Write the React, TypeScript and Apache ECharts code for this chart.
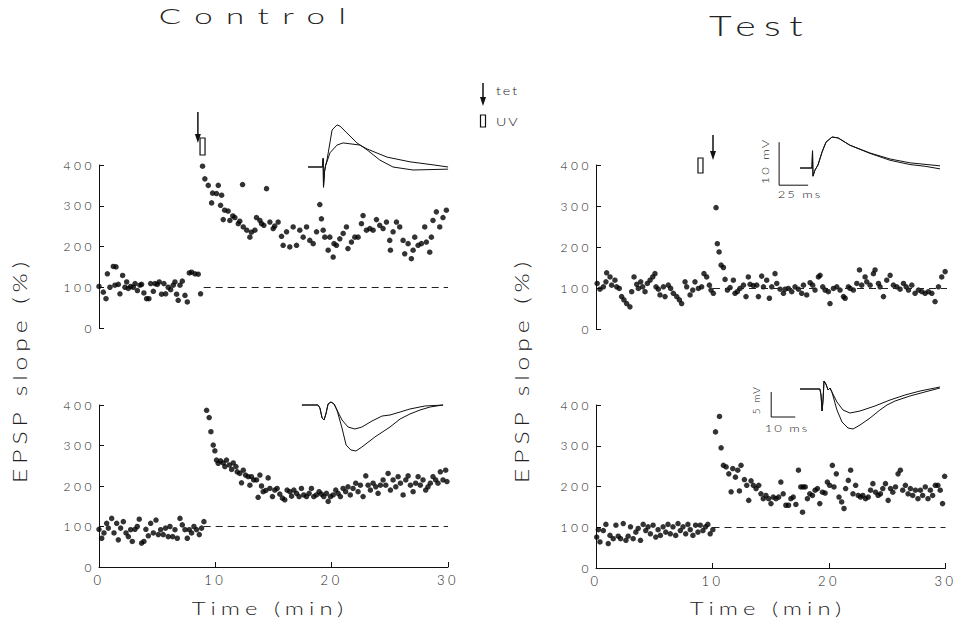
import React, { useEffect, useRef } from "react";
import * as echarts from "echarts";

// ---- EPSP slope (%) vs time (min) ----
const ctrlTop: number[][] = [
  [0,102],[0.37,88],[0.6,72],[0.72,133],[0.94,100],[1.23,151],[1.37,105],[1.46,150],[1.66,107],[1.8,84],
  [2.03,129],[2.23,100],[2.38,113],[2.52,97],[2.72,102],[2.95,100],[3.1,109],[3.3,92],[3.52,105],[3.66,107],
  [3.86,86],[4.09,72],[4.29,72],[4.44,109],[4.67,90],[4.81,109],[5.01,107],[5.18,113],[5.38,83],[5.58,109],
  [5.73,84],[5.95,100],[6.16,94],[6.38,105],[6.53,113],[6.67,83],[6.81,68],[6.96,105],[7.16,115],[7.39,80],
  [7.59,64],[7.76,135],[7.96,137],[8.25,133],[8.53,132],[8.73,84],
  [8.9,397],[9.1,366],[9.39,350],[9.68,307],[9.76,331],[10.1,330],[10.25,350],[10.45,301],[10.54,326],[10.68,266],
  [10.8,289],[11.1,287],[11.25,264],[11.5,275],[11.68,271],[11.97,256],[12.1,262],[12.34,352],[12.4,248],[12.7,240],
  [12.97,223],[13.1,235],[13.4,240],[13.54,271],[13.83,264],[13.97,256],[14.17,252],[14.4,342],[14.69,260],[14.97,244],
  [15.1,250],[15.4,260],[15.69,225],[15.83,203],[16.12,236],[16.4,199],[16.69,248],[16.98,203],[17.26,240],[17.55,223],
  [17.84,248],[18.12,215],[18.41,207],[18.7,236],[18.98,303],[19.12,268],[19.27,240],[19.41,223],[19.7,191],[19.84,223],
  [20.13,174],[20.2,207],[20.41,203],[20.7,219],[20.99,232],[21.27,248],[21.4,195],[21.7,211],[21.99,223],[22.27,223],
  [22.56,256],[22.7,276],[22.99,240],[23.28,244],[23.56,240],[23.85,266],[24.13,252],[24.42,244],[24.71,260],[24.99,215],
  [25.05,191],[25.28,236],[25.57,260],[25.85,248],[26.14,215],[26.28,182],[26.57,207],[26.85,170],[27,191],[27.14,223],
  [27.43,203],[27.71,207],[28,248],[28.14,211],[28.43,186],[28.57,223],[28.71,264],[29,285],[29.29,248],[29.57,271],[29.86,289]
];

const ctrlBottom: number[][] = [
  [0,93],[0.23,71],[0.43,84],[0.66,108],[0.8,96],[1.09,120],[1.29,84],[1.52,108],[1.66,67],[1.86,96],
  [2.09,112],[2.32,84],[2.52,75],[2.72,92],[2.86,63],[3.09,93],[3.29,100],[3.46,118],[3.66,59],[3.86,63],
  [4.03,93],[4.24,77],[4.44,108],[4.67,84],[4.9,116],[5.1,80],[5.3,92],[5.52,80],[5.72,96],[5.95,75],
  [6.1,100],[6.33,75],[6.53,92],[6.73,71],[6.96,120],[7.16,104],[7.39,92],[7.59,71],[7.76,92],[7.96,84],
  [8.16,100],[8.39,92],[8.62,80],[8.82,96],[9.02,112],
  [9.25,387],[9.47,369],[9.62,334],[9.82,301],[9.96,287],[10.1,264],[10.25,256],[10.45,262],[10.68,257],[10.82,248],
  [10.96,264],[11.2,252],[11.4,241],[11.54,257],[11.77,248],[11.88,235],[12.1,231],[12.25,208],[12.4,239],[12.6,227],
  [12.82,223],[12.97,202],[13.1,223],[13.3,215],[13.54,215],[13.68,172],[13.83,227],[13.97,200],[14.11,186],[14.34,189],
  [14.54,220],[14.69,194],[14.91,174],[15.11,190],[15.31,194],[15.54,180],[15.77,170],[15.97,166],[16.17,190],[16.4,186],
  [16.55,175],[16.75,190],[16.98,182],[17.2,174],[17.4,194],[17.6,178],[17.84,174],[18.06,182],[18.26,194],[18.46,174],
  [18.69,178],[18.92,186],[19.12,180],[19.32,174],[19.55,182],[19.7,162],[19.9,174],[20.13,178],[20.35,190],[20.55,182],
  [20.75,174],[20.98,194],[21.2,186],[21.4,198],[21.6,178],[21.84,194],[22.07,207],[22.27,186],[22.47,202],[22.7,174],
  [22.93,225],[23.13,202],[23.33,190],[23.56,207],[23.79,198],[23.99,182],[24.19,202],[24.42,215],[24.65,202],[24.85,231],
  [25.05,190],[25.28,215],[25.51,198],[25.71,223],[25.91,207],[26.14,178],[26.37,215],[26.57,225],[26.77,202],[27,186],
  [27.22,207],[27.43,223],[27.62,202],[27.85,215],[28.08,190],[28.28,198],[28.48,207],[28.71,223],[28.94,215],[29.14,207],
  [29.34,235],[29.57,215],[29.8,239],[29.91,211]
];

const testTop: number[][] = [
  [0.1,111],[0.34,97],[0.63,103],[0.85,115],[0.91,137],[1.2,127],[1.34,107],[1.62,119],[1.77,103],[1.99,99],
  [2.19,79],[2.39,71],[2.62,62],[2.9,54],[3.05,91],[3.25,127],[3.48,109],[3.62,99],[3.82,115],[3.99,103],
  [4.19,91],[4.39,111],[4.62,119],[4.85,127],[5.04,135],[5.13,103],[5.33,97],[5.47,83],[5.76,103],[5.9,79],
  [6.18,107],[6.38,99],[6.61,87],[6.9,79],[7.13,71],[7.32,62],[7.61,115],[7.75,103],[8.04,83],[8.27,95],
  [8.46,115],[8.75,99],[9.03,103],[9.23,135],[9.46,127],[9.69,107],[9.83,95],[10.03,87],
  [10.26,296],[10.37,208],[10.52,188],[10.69,156],[10.89,150],[11.03,121],[11.23,95],[11.46,101],[11.74,119],[11.88,87],
  [12.08,91],[12.31,99],[12.6,107],[12.82,79],[13.02,127],[13.17,109],[13.45,106],[13.74,107],[13.88,79],[14.16,129],
  [14.31,103],[14.59,119],[14.82,75],[15.02,103],[15.3,135],[15.45,111],[15.73,97],[16.02,87],[16.16,97],[16.44,99],
  [16.73,91],[17.01,103],[17.3,97],[17.58,87],[17.73,107],[18.01,83],[18.3,113],[18.52,107],[18.72,95],[19.01,127],
  [19.15,131],[19.38,103],[19.58,95],[19.86,91],[20.0,62],[20.29,99],[20.58,103],[20.86,95],[21.15,79],[21.29,75],
  [21.57,103],[21.72,99],[22.0,95],[22.29,111],[22.52,144],[22.71,107],[23.0,127],[23.14,115],[23.43,107],[23.71,135],
  [23.85,144],[24.14,111],[24.28,103],[24.57,79],[24.85,119],[25.14,131],[25.42,107],[25.71,103],[25.99,97],[26.28,111],
  [26.51,103],[26.71,95],[26.99,107],[27.27,87],[27.56,95],[27.85,91],[28.13,87],[28.41,91],[28.7,87],[28.98,67],
  [29.27,103],[29.55,127],[29.84,140]
];

const testBottom: number[][] = [
  [0.06,76],[0.2,94],[0.34,64],[0.63,92],[0.85,107],[1.05,60],[1.2,80],[1.48,72],[1.71,105],[1.91,78],
  [2.11,72],[2.34,109],[2.57,68],[2.76,78],[2.96,101],[3.19,72],[3.42,88],[3.62,97],[3.82,68],[4.05,107],
  [4.27,92],[4.47,101],[4.67,84],[4.9,105],[5.13,76],[5.33,94],[5.53,80],[5.76,101],[5.99,88],[6.18,107],
  [6.38,84],[6.61,101],[6.84,80],[7.04,109],[7.24,92],[7.47,101],[7.7,84],[7.89,107],[8.09,94],[8.32,80],
  [8.55,105],[8.75,88],[8.95,105],[9.18,92],[9.4,101],[9.6,107],[9.8,84],[10.03,94],
  [10.26,334],[10.46,410],[10.6,372],[10.74,295],[10.94,252],[11.17,248],[11.4,231],[11.6,187],[11.74,244],[11.97,223],
  [12.17,240],[12.31,189],[12.45,252],[12.74,217],[12.94,203],[13.11,166],[13.31,214],[13.51,203],[13.74,195],[13.97,203],
  [14.16,182],[14.36,170],[14.59,178],[14.82,170],[15.02,158],[15.22,174],[15.45,170],[15.68,174],[15.87,211],[16.07,182],
  [16.3,154],[16.53,154],[16.73,170],[16.93,174],[17.16,156],[17.38,240],[17.58,199],[17.73,137],[17.78,199],[17.96,199],
  [18.15,170],[18.35,182],[18.58,178],[18.81,191],[19.01,195],[19.21,158],[19.44,186],[19.67,184],[19.86,211],[20.06,203],
  [20.29,252],[20.43,199],[20.63,231],[20.86,174],[21.09,162],[21.29,146],[21.43,195],[21.66,215],[21.86,240],[22.06,182],
  [22.29,203],[22.51,178],[22.71,174],[22.91,178],[23.14,170],[23.37,174],[23.57,191],[23.77,207],[24.0,186],[24.22,178],
  [24.42,182],[24.62,195],[24.85,207],[25.08,166],[25.28,195],[25.48,186],[25.71,199],[25.93,231],[26.13,240],[26.33,191],
  [26.56,203],[26.79,182],[26.99,195],[27.19,178],[27.42,191],[27.64,170],[27.85,191],[28.04,178],[28.27,199],[28.5,170],
  [28.7,191],[28.9,178],[29.13,203],[29.35,203],[29.55,191],[29.75,158],[29.93,225]
];

// event times (min)
const tetanusTime = [8.5, 10.0];   // control, test
const uvTime = [8.9, 8.93];        // control, test
const baselineStart = [9.0, 10.0]; // dashed 100% line start

// tick labels
const yTicks = [0, 100, 200, 300, 400];
const xTicks = [0, 10, 20, 30];

// ---- inset traces: [ms, mV] ----
const traceCtrlTopA: number[][] = [
  [2.5,0],[14.5,0],[15,2],[15.3,-4.7],[16.2,-1],[17,0.3],[18.2,1.6],[22.4,8.6],[26.5,9.8],[29,9.5],
  [43,5.6],[51.3,4.0],[62,1.6],[72.8,0],[89.4,-0.7],[118.4,-0.5]
];
const traceCtrlTopB: number[][] = [
  [2.5,0],[14.5,0],[15,2],[15.3,-4.7],[16.2,-1],[17,0.3],[20.7,3.3],[26.5,5.1],[31.5,5.6],[45.5,5.1],
  [51.3,4.2],[67.9,2.3],[86.9,1.2],[106,0.5],[118.4,0]
];
const traceTestTopA: number[][] = [
  [0,0],[10.3,0],[10.8,4],[11.2,-1.9],[12.9,-0.5],[15.5,0.7],[19,3.7],[22.4,6],[27.6,7.2],[32.8,7],
  [43,5.3],[60.3,3.5],[77.6,2.1],[94.8,1.2],[120.7,0.5]
];
const traceTestTopB: number[][] = [
  [0,0],[10.3,0],[10.8,4],[11.2,-1.9],[12.9,-0.5],[15.5,0.7],[19,3.7],[22.4,6],[27.6,7.2],[32.8,7],
  [43,5.3],[60.3,3.4],[77.6,1.8],[94.8,0.8],[107.8,0.4],[120.7,-0.2]
];
const scaleBarTop: number[][] = [[-18,6],[-18,-4],[7,-4]]; // 10 mV, 25 ms

const traceCtrlBotA: number[][] = [
  [0.8,0],[7.5,0],[8.3,-0.6],[9.2,-2.6],[10,-3],[10.8,-1.8],[11.7,0.2],[12.9,0.6],[14.2,0.2],[15.4,-1],
  [17.5,-3],[20,-4.4],[22.9,-4.8],[25.8,-4.4],[30,-3.2],[34.2,-2.2],[37.5,-2],[41.7,-1.4],[45.8,-0.8],[52,-0.2],[59.6,0]
];
const traceCtrlBotB: number[][] = [
  [0.8,0],[7.5,0],[8.3,-0.6],[9.2,-2.6],[10,-3],[10.8,-1.8],[11.7,0.2],[12.9,0.6],[14.2,0.2],[15.4,-1],
  [17.5,-4.6],[19.2,-8],[21.2,-9],[23.3,-9.2],[25.8,-8.4],[31.2,-6.4],[37.5,-4.4],[41.7,-2.8],[45.8,-1.8],[50,-1],[54.2,-0.4],[59.6,0]
];
const traceTestBotA: number[][] = [
  [0,0],[8.3,0],[8.75,-1.2],[9.2,-4.4],[9.6,-2.2],[10,1.6],[10.8,1],[11.7,-0.2],[12.5,0.2],[13.3,-0.6],
  [15.4,-2.6],[17.9,-4.2],[20.8,-4.8],[25,-4.4],[31.2,-3.4],[37.5,-2.2],[43.75,-1.2],[50,-0.4],[56.25,0.2],[58.3,0.4]
];
const traceTestBotB: number[][] = [
  [0,0],[8.3,0],[8.75,-1.2],[9.2,-4.4],[9.6,-2.2],[10,1.6],[10.8,1],[11.7,-0.2],[12.5,0.2],[13.3,-0.6],
  [15.4,-4.2],[17.5,-6.6],[20,-7.8],[22.1,-8],[25,-7.2],[29.2,-5.8],[33.3,-4.2],[36.25,-3.2],[39.6,-2.4],[45.8,-1.4],[52,-0.6],[58.3,0.2]
];
const scaleBarBot: number[][] = [[-12,-0.6],[-12,-5.6],[-2,-5.6]]; // 5 mV, 10 ms

const LIGHT = "Lato";
const INK = "#111";

// letter spacing for the plotter-style labels (matched by their font size)
const CSS = `
.epsp-chart text[style*="22px"] { letter-spacing: 9px; }
.epsp-chart text[style*="28px"] { letter-spacing: 6px; }
.epsp-chart text[style*="19px"] { letter-spacing: 3.8px; }
.epsp-chart text[style*="17px"] { letter-spacing: 3.6px; }
.epsp-chart text[style*="13px"] { letter-spacing: 3.5px; }
.epsp-chart text[style*="12px"] { letter-spacing: 3.5px; }
.epsp-chart text[style*="11px"] { letter-spacing: 1.5px; }
.epsp-chart text[style*="10px"] { letter-spacing: 1.5px; }
`;

export default function App() {
  const ref = useRef<HTMLDivElement>(null);

  useEffect(() => {
    if (!ref.current) return;
    const chart = echarts.init(ref.current, undefined, { renderer: "svg" });

    const mainGrids = [
      { left: 99, top: 165, width: 349, height: 163 },
      { left: 99, top: 405, width: 349, height: 162 },
      { left: 596, top: 165, width: 351, height: 164 },
      { left: 596, top: 405, width: 351, height: 163 },
    ];
    const insetGrids = [
      { left: 305, top: 115.4, width: 145, height: 77.4 },
      { left: 300, top: 400, width: 148.8, height: 55 },
      { left: 776.8, top: 133.6, width: 168.2, height: 55.9 },
      { left: 764, top: 379, width: 184.8, height: 55 },
    ];
    const insetRanges = [
      { x: [0, 120], y: [-6, 12] },
      { x: [0, 62], y: [-10, 1] },
      { x: [-20, 125], y: [-5, 8] },
      { x: [-15, 62], y: [-9, 2] },
    ];

    const xAxes: any[] = [];
    const yAxes: any[] = [];
    mainGrids.forEach((_, i) => {
      const bottom = i === 1 || i === 3;
      xAxes.push({
        type: "value", gridIndex: i, min: xTicks[0], max: xTicks[xTicks.length - 1], interval: 10,
        show: bottom,
        axisLine: { show: true, onZero: false, lineStyle: { color: INK, width: 1 } },
        axisTick: { show: true, inside: true, length: 5, lineStyle: { color: INK } },
        axisLabel: { fontFamily: LIGHT, fontWeight: 300, fontSize: 13, color: "#222", margin: 6 },
        splitLine: { show: false },
      });
      yAxes.push({
        type: "value", gridIndex: i, min: yTicks[0], max: yTicks[yTicks.length - 1], interval: 100,
        axisLine: { show: true, lineStyle: { color: INK, width: 1 } },
        axisTick: { show: true, inside: true, length: 5, lineStyle: { color: INK } },
        axisLabel: { fontFamily: LIGHT, fontWeight: 300, fontSize: 12, color: "#222", margin: 4 },
        splitLine: { show: false },
      });
    });
    insetRanges.forEach((r, k) => {
      xAxes.push({ type: "value", gridIndex: 4 + k, min: r.x[0], max: r.x[1], show: false, splitLine: { show: false } });
      yAxes.push({ type: "value", gridIndex: 4 + k, min: r.y[0], max: r.y[1], show: false, splitLine: { show: false } });
    });

    const scatterSets = [ctrlTop, ctrlBottom, testTop, testBottom];
    const series: any[] = scatterSets.map((d, i) => ({
      type: "scatter", xAxisIndex: i, yAxisIndex: i, data: d, symbolSize: 5.5,
      itemStyle: { color: "#000" }, silent: true,
      markLine: {
        silent: true, symbol: ["none", "none"], label: { show: false },
        lineStyle: { type: [7, 5], color: "#222", width: 1 },
        data: [[{ coord: [baselineStart[i < 2 ? 0 : 1], 100] }, { coord: [30, 100] }]],
      },
    }));
    const lineOf = (idx: number, d: number[][]) => ({
      type: "line", xAxisIndex: idx, yAxisIndex: idx, data: d, showSymbol: false, silent: true,
      lineStyle: { color: INK, width: 1 },
    });
    series.push(lineOf(4, traceCtrlTopA), lineOf(4, traceCtrlTopB));
    series.push(lineOf(5, traceCtrlBotA), lineOf(5, traceCtrlBotB));
    series.push(lineOf(6, traceTestTopA), lineOf(6, traceTestTopB), lineOf(6, scaleBarTop));
    series.push(lineOf(7, traceTestBotA), lineOf(7, traceTestBotB), lineOf(7, scaleBarBot));

    chart.setOption({
      animation: false,
      backgroundColor: "#fff",
      grid: [...mainGrids, ...insetGrids],
      xAxis: xAxes,
      yAxis: yAxes,
      series,
    });

    const txt = (text: string, x: number, y: number, size: number, sx: number, rot = 0, align = "center") => ({
      type: "text", x, y, rotation: rot, scaleX: sx, silent: true,
      style: {
        text, x: 0, y: 0, fill: "#222", fontFamily: LIGHT, fontWeight: 300, fontSize: size,
        textAlign: align, textVerticalAlign: "middle",
      },
    });
    const arrow = (x: number, y1: number, tip: number) => [
      { type: "line", silent: true, shape: { x1: x, y1, x2: x, y2: tip - 6 }, style: { stroke: INK, lineWidth: 1.5 } },
      { type: "polygon", silent: true, shape: { points: [[x - 3, tip - 9], [x + 3, tip - 9], [x, tip]] }, style: { fill: INK } },
    ];
    const uvBox = (cx: number, y1: number, y2: number) => ({
      type: "rect", silent: true, shape: { x: cx - 2.5, y: y1, width: 5, height: y2 - y1 },
      style: { fill: "#fff", stroke: INK, lineWidth: 1.2 },
    });

    const p = (g: number, t: number, v: number) => chart.convertToPixel({ gridIndex: g } as any, [t, v]) as number[];
    const topC = p(0, 0, 400)[1];
    const topT = p(2, 0, 400)[1];
    const aC = p(0, tetanusTime[0], 400)[0];
    const uC = p(0, uvTime[0], 400)[0];
    const aT = p(2, tetanusTime[1], 400)[0];
    const uT = p(2, uvTime[1], 400)[0];

    const graphic: any[] = [
      txt("Control", 259, 15, 22, 1.5),
      txt("Test", 760, 25, 28, 1.4),
      txt("EPSP slope (%)", 20, 370, 19, 1.3, Math.PI / 2),
      txt("EPSP slope (%)", 522, 370, 19, 1.3, Math.PI / 2),
      txt("Time (min)", 270, 608, 17, 1.4),
      txt("Time (min)", 768, 608, 17, 1.4),
      txt("tet", 496, 91, 11, 1.3, 0, "left"),
      txt("UV", 496, 122, 11, 1.3, 0, "left"),
      txt("10 mV", 765, 161, 10, 1.3, Math.PI / 2),
      txt("25 ms", 800, 194, 10, 1.3),
      txt("5 mV", 756, 400, 10, 1.0, Math.PI / 2),
      txt("10 ms", 787, 428, 10, 1.3),
      uvBox(uC, topC - 27, topC - 10),
      uvBox(uT, topT - 7, topT + 8),
      uvBox(483, 115, 127),
      ...arrow(aC, topC - 53, topC - 22),
      ...arrow(aT, topT - 30, topT - 5),
      ...arrow(483, 83, 106),
    ];
    chart.setOption({ graphic });

    return () => chart.dispose();
  }, []);

  return (
    <>
      <style>{CSS}</style>
      <div
        ref={ref}
        className="epsp-chart"
        style={{ position: "fixed", left: 0, top: 0, width: 956, height: 624, background: "#fff" }}
      />
    </>
  );
}
